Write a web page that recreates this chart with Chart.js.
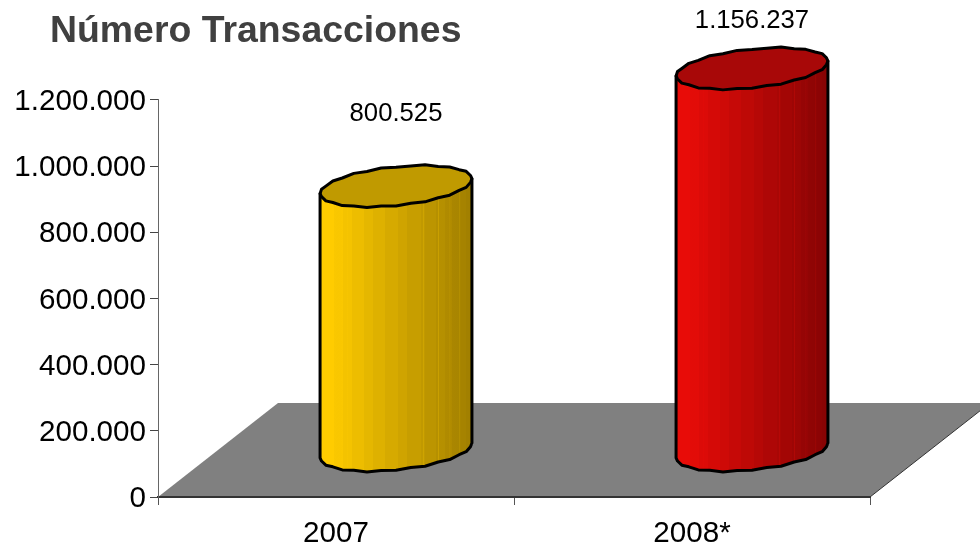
<!DOCTYPE html>
<html>
<head>
<meta charset="utf-8">
<title>Número Transacciones</title>
<style>
  html, body { margin: 0; padding: 0; background: #fff; overflow: hidden; }
  canvas { display: block; }
</style>
<script src="https://cdn.jsdelivr.net/npm/chart.js@4"></script>
</head>
<body>
<canvas id="chart" width="980" height="545"></canvas>
<script>
const categories = ['2007', '2008*'];
const transacciones = [800525, 1156237];
const valueLabels = ['800.525', '1.156.237'];
const yTickValues = [0, 200000, 400000, 600000, 800000, 1000000, 1200000];
const yTickLabels = ['0', '200.000', '400.000', '600.000', '800.000', '1.000.000', '1.200.000'];

// left and right colour of the cylinder wall, and colour of its lid
const wallLight = [[255, 204, 0], [232, 12, 8]];
const wallDark = [[160, 126, 0], [134, 4, 4]];
const lidColors = ['#c09a00', '#a80808'];

// facets of the wall, as fraction of the width
const facets = [0, .045, .09, .15, .21, .29, .35, .43, .51, .575, .665, .69, .76, .82, .87, .93, .96, 1];
// thin pale lines between some facets
const facetLines = [.065, .125, .18, .68, .78, .855, .92];
// small dents of the hand-drawn looking rim
const rimDents = [0, .006, -.006, .008, 0, .01, -.006, .006, .01, -.004, .008, -.008, .006, -.006, .008, -.006,
                  0, -.008, .004, -.01, .004, -.008, .006, -.01, .002, -.01, .006, -.008, .006, -.006, .008, -.004];

const FONT = '"Liberation Sans", Arial, sans-serif';
const DEPTH_X = 120, DEPTH_Y = 94;   // depth of the 3d floor
const BAR_DX = 60, BAR_DY = 46;      // bars stand in the middle of it
const LABEL_GAP = [72, 48];          // label distance above the lid
const BAR_SHARE = 152 / 356;

function mix(a, b, f){
  const c = a.map((v, i) => Math.round(v + (b[i] - v) * f));
  return `rgb(${c[0]},${c[1]},${c[2]})`;
}

function wallGradient(ctx, left, width, i){
  const g = ctx.createLinearGradient(left, 0, left + width, 0);
  const shadeAt = f => Math.max(0, (f - .07) / .93);
  facets.slice(0, -1).forEach((f, n) => {
    const next = facets[n + 1];
    const col = mix(wallLight[i], wallDark[i], shadeAt((f + next) / 2));
    g.addColorStop(f, col);
    g.addColorStop(next, col);
  });
  facetLines.forEach(f => {
    const pale = mix(wallLight[i], wallDark[i], shadeAt(f) * .72);
    const col = mix(wallLight[i], wallDark[i], shadeAt(f));
    g.addColorStop(f - .004, col);
    g.addColorStop(f, pale);
    g.addColorStop(f + .004, col);
  });
  return g;
}

function rimPoints(cx, cy, hw){
  const ux = .934 * hw, vx = .355 * hw, vy = -.276 * hw;
  const t0 = Math.atan2(vx, ux);
  return rimDents.map((d, n) => {
    const t = t0 + n / rimDents.length * Math.PI * 2;
    return [cx + Math.cos(t) * ux + Math.sin(t) * vx, cy + Math.sin(t) * vy + d * hw];
  });
}

function trace(ctx, pts, move){
  pts.forEach((p, n) => (n === 0 && move) ? ctx.moveTo(p[0], p[1]) : ctx.lineTo(p[0], p[1]));
}

function cylinders(chart){
  return chart.getDatasetMeta(0).data.map(bar => {
    const hw = bar.width / 2;
    const top = rimPoints(bar.x, bar.y, hw);
    const bottom = rimPoints(bar.x, bar.base, hw);
    const half = rimDents.length / 2;
    return {
      bar, hw, top, bottom,
      topBack: top.slice(0, half + 1),
      bottomFront: bottom.slice(half).concat([bottom[0]])
    };
  });
}

const cylinderPlugin = {
  id: 'cylinders',
  afterLayout(chart){
    // title starts further right than the axis labels
    chart.titleBlock.left = 50;
  },
  beforeDraw(chart){
    const {ctx, scales: {x, y}} = chart;
    const base = y.getPixelForValue(0);
    // y labels sit a little under their tick in the original
    y.getLabelItems().forEach(item => { item.textOffset += 2; });
    ctx.save();
    ctx.fillStyle = '#808080';
    ctx.beginPath();
    ctx.moveTo(x.left, base);
    ctx.lineTo(x.right, base);
    ctx.lineTo(x.right + DEPTH_X, base - DEPTH_Y);
    ctx.lineTo(x.left + DEPTH_X, base - DEPTH_Y);
    ctx.closePath();
    ctx.fill();
    ctx.strokeStyle = '#333';
    ctx.lineWidth = 1;
    ctx.beginPath();
    ctx.moveTo(x.right, base);
    ctx.lineTo(x.right + DEPTH_X, base - DEPTH_Y);
    ctx.stroke();
    ctx.restore();
  },
  beforeDatasetDraw(chart){
    const ctx = chart.ctx;
    ctx.save();
    ctx.translate(BAR_DX, -BAR_DY);
    // only the silhouette of each cylinder may be painted
    ctx.beginPath();
    cylinders(chart).forEach(c => {
      trace(ctx, c.topBack, true);
      trace(ctx, c.bottomFront, false);
      ctx.closePath();
    });
    ctx.clip();
    cylinders(chart).forEach((c, i) => {
      ctx.fillStyle = wallGradient(ctx, c.bar.x - c.hw, c.hw * 2, i);
      ctx.beginPath();
      trace(ctx, c.topBack, true);
      trace(ctx, c.bottomFront, false);
      ctx.closePath();
      ctx.fill();
    });
  },
  afterDatasetDraw(chart){
    const ctx = chart.ctx;
    ctx.restore();
    ctx.save();
    ctx.translate(BAR_DX, -BAR_DY);
    ctx.lineJoin = 'round';
    ctx.lineCap = 'round';
    ctx.strokeStyle = '#000';
    ctx.lineWidth = 3;
    cylinders(chart).forEach((c, i) => {
      ctx.beginPath();
      trace(ctx, c.top, true);
      ctx.closePath();
      ctx.fillStyle = lidColors[i];
      ctx.fill();
      ctx.stroke();
      ctx.beginPath();
      ctx.moveTo(c.top[0][0], c.top[0][1]);
      ctx.lineTo(c.bottom[0][0], c.bottom[0][1]);
      const half = rimDents.length / 2;
      ctx.moveTo(c.top[half][0], c.top[half][1]);
      trace(ctx, c.bottomFront, false);
      ctx.stroke();
    });
    ctx.restore();
    // value labels
    ctx.save();
    ctx.font = '25.7px ' + FONT;
    ctx.fillStyle = '#000';
    ctx.textAlign = 'center';
    ctx.textBaseline = 'middle';
    chart.getDatasetMeta(0).data.forEach((bar, i) => {
      ctx.fillText(valueLabels[i], bar.x + BAR_DX, bar.y - BAR_DY - LABEL_GAP[i]);
    });
    ctx.restore();
  }
};

new Chart(document.getElementById('chart'), {
  type: 'bar',
  data: {
    labels: categories,
    datasets: [{
      data: transacciones,
      clip: false,
      borderWidth: 0,
      barPercentage: BAR_SHARE,
      categoryPercentage: 1,
      backgroundColor(c){
        const x = c.chart.scales.x;
        if(!x || !Number.isInteger(c.dataIndex)) return 'transparent';
        const w = x.width / categories.length * BAR_SHARE;
        const left = x.getPixelForValue(c.dataIndex) - w / 2;
        if(!Number.isFinite(left)) return 'transparent';
        return wallGradient(c.chart.ctx, left, w, c.dataIndex);
      }
    }]
  },
  plugins: [cylinderPlugin],
  options: {
    responsive: false,
    animation: false,
    layout: {padding: {left: 0, right: 110, top: 0, bottom: 0}},
    plugins: {
      legend: {display: false},
      tooltip: {enabled: false},
      title: {
        display: true,
        text: 'Número Transacciones',
        align: 'start',
        color: '#404040',
        font: {family: FONT, size: 37.4, weight: 'bold', lineHeight: 1.2},
        padding: {top: 9, bottom: 46.1}
      }
    },
    scales: {
      x: {
        afterFit(s){ s.height = 48; },
        border: {color: '#333', width: 2},
        grid: {display: true, offset: true, drawOnChartArea: false, tickLength: 8, color: '#555', tickColor: '#555'},
        ticks: {color: '#000', font: {family: FONT, size: 29.6}, padding: 11, maxRotation: 0, autoSkip: false}
      },
      y: {
        min: 0,
        max: 1200000,
        afterFit(s){ s.width = 158; },
        afterBuildTicks(s){ s.ticks = yTickValues.map(value => ({value})); },
        border: {color: '#666', width: 1},
        grid: {drawOnChartArea: false, tickLength: 8, color: '#444', tickColor: '#444'},
        ticks: {
          color: '#000',
          font: {family: FONT, size: 29.6},
          padding: 4,
          autoSkip: false,
          callback: (v, i) => yTickLabels[i]
        }
      }
    }
  }
});
</script>
</body>
</html>
